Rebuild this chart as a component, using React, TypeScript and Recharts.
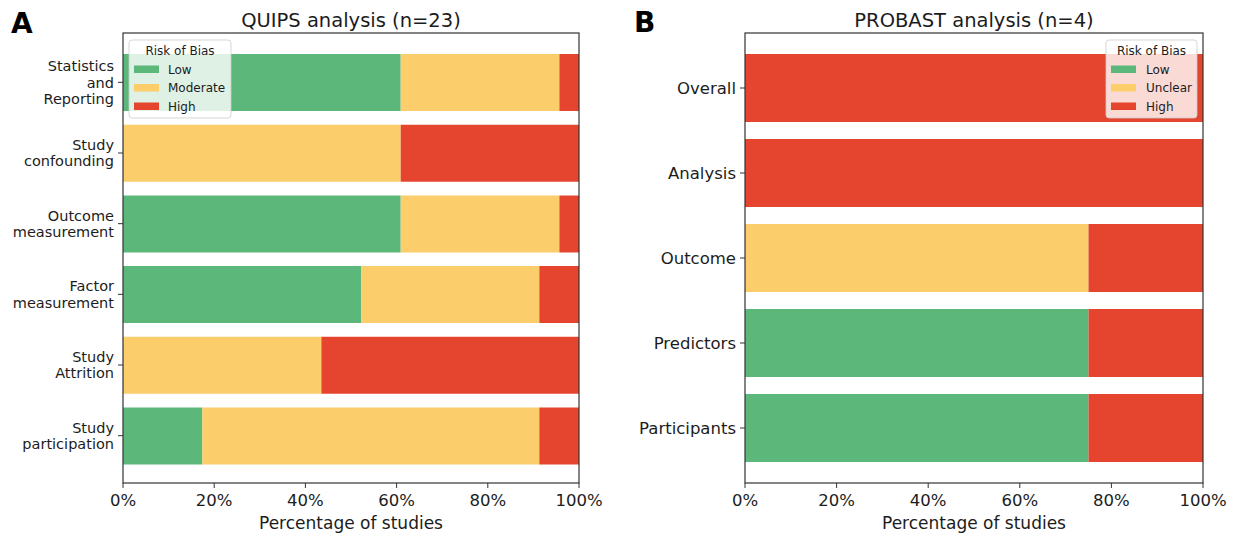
import { Bar, BarChart, XAxis, YAxis } from "recharts";

const FONT = "'DejaVu Sans', sans-serif";
const GREEN = "#5cb77b";
const YELLOW = "#fccd6b";
const RED = "#e5452f";
const INK = "#1c1c1c";

// Panel A: QUIPS (n=23), % of studies
const quipsCategories = [
  "Statistics\nand\nReporting",
  "Study\nconfounding",
  "Outcome\nmeasurement",
  "Factor\nmeasurement",
  "Study\nAttrition",
  "Study\nparticipation",
];
const quipsLow = [60.9, 0, 60.9, 52.2, 0, 17.4];
const quipsModerate = [34.8, 60.9, 34.8, 39.1, 43.5, 73.9];
const quipsHigh = [4.3, 39.1, 4.3, 8.7, 56.5, 8.7];

// Panel B: PROBAST (n=4)
const probastCategories = ["Overall", "Analysis", "Outcome", "Predictors", "Participants"];
const probastLow = [0, 0, 0, 75, 75];
const probastUnclear = [0, 0, 75, 0, 0];
const probastHigh = [100, 100, 25, 25, 25];

const percentTicks = [0, 20, 40, 60, 80, 100];

const quipsData = quipsCategories.map((name, i) => ({
  name,
  low: quipsLow[i],
  mid: quipsModerate[i],
  high: quipsHigh[i],
}));

const probastData = probastCategories.map((name, i) => ({
  name,
  low: probastLow[i],
  mid: probastUnclear[i],
  high: probastHigh[i],
}));

function MultiLineTick(props: any) {
  const { x, y, payload, fontSize, lineHeight } = props;
  const lines = String(payload.value).split("\n");
  const n = lines.length;
  return (
    <text x={x} y={y} textAnchor="end" fontSize={fontSize} fill={INK} fontFamily={FONT}>
      {lines.map((ln, i) => (
        <tspan key={i} x={x} y={y + (i - (n - 1) / 2) * lineHeight + fontSize * 0.36}>
          {ln}
        </tspan>
      ))}
    </text>
  );
}

interface PanelProps {
  data: { name: string; low: number; mid: number; high: number }[];
  left: number;
  width: number;
  yAxisWidth: number;
  rightMargin: number;
  padTop: number;
  padBottom: number;
  tickFont: number;
  tickLine: number;
}

function Panel({ data, left, width, yAxisWidth, rightMargin, padTop, padBottom, tickFont, tickLine }: PanelProps) {
  return (
    <div style={{ position: "absolute", left, top: 0 }}>
      <BarChart
        width={width}
        height={535}
        data={data}
        layout="vertical"
        margin={{ top: 33, right: rightMargin, bottom: 0, left: 0 }}
        barCategoryGap="10%"
      >
        <XAxis
          type="number"
          domain={[0, 100]}
          ticks={percentTicks}
          tickFormatter={(v) => `${v}%`}
          height={52}
          axisLine={false}
          tickSize={5}
          tickMargin={6}
          tickLine={{ stroke: "#333" }}
          tick={{ fontSize: 16.5, fill: INK, fontFamily: FONT }}
          interval={0}
        />
        <YAxis
          type="category"
          dataKey="name"
          width={yAxisWidth}
          axisLine={false}
          tickSize={5}
          tickMargin={4}
          tickLine={{ stroke: "#333" }}
          padding={{ top: padTop, bottom: padBottom }}
          interval={0}
          tick={(p: any) => <MultiLineTick {...p} fontSize={tickFont} lineHeight={tickLine} />}
        />
        <Bar dataKey="low" stackId="s" fill={GREEN} isAnimationActive={false} />
        <Bar dataKey="mid" stackId="s" fill={YELLOW} isAnimationActive={false} />
        <Bar dataKey="high" stackId="s" fill={RED} isAnimationActive={false} />
      </BarChart>
    </div>
  );
}

function LegendBox({ x, y, w, labels, textX }: { x: number; y: number; w: number; labels: string[]; textX: number }) {
  const colors = [GREEN, YELLOW, RED];
  return (
    <g fontFamily={FONT}>
      <rect x={x} y={y} width={w} height={78} rx={3} fill="#fff" fillOpacity={0.8} stroke="#ccc" strokeOpacity={0.8} />
      <text x={x + w / 2} y={y + 14.5} fontSize={12} textAnchor="middle" fill={INK}>
        Risk of Bias
      </text>
      {labels.map((lb, i) => (
        <g key={lb}>
          <rect x={x + 5} y={y + 25.5 + i * 18.5} width={25} height={7.5} fill={colors[i]} />
          <text x={x + textX} y={y + 33.5 + i * 18.5} fontSize={12} fill={INK}>
            {lb}
          </text>
        </g>
      ))}
    </g>
  );
}

export default function App() {
  return (
    <div style={{ position: "absolute", left: 0, top: 0, width: 1235, height: 535, background: "#fff", fontFamily: FONT }}>
      <Panel
        data={quipsData}
        left={0}
        width={620}
        yAxisWidth={123}
        rightMargin={41}
        padTop={14}
        padBottom={12}
        tickFont={14.5}
        tickLine={16.5}
      />
      <Panel
        data={probastData}
        left={620}
        width={615}
        yAxisWidth={125}
        rightMargin={32}
        padTop={12.5}
        padBottom={12.5}
        tickFont={16.5}
        tickLine={18}
      />
      <svg
        width={1235}
        height={535}
        style={{ position: "absolute", left: 0, top: 0, pointerEvents: "none" }}
        fontFamily={FONT}
      >
        <rect x={123} y={33} width={456} height={450} fill="none" stroke="#333" strokeWidth={1.2} />
        <rect x={745} y={33} width={458} height={450} fill="none" stroke="#333" strokeWidth={1.2} />

        <text x={11} y={33} fontSize={28} fontWeight="bold" fill="#000">A</text>
        <text x={634} y={32} fontSize={28} fontWeight="bold" fill="#000">B</text>

        <text x={351} y={27} fontSize={19.5} textAnchor="middle" fill={INK}>QUIPS analysis (n=23)</text>
        <text x={974} y={27} fontSize={19.5} textAnchor="middle" fill={INK}>PROBAST analysis (n=4)</text>

        <text x={351} y={529} fontSize={17} textAnchor="middle" fill={INK}>Percentage of studies</text>
        <text x={974} y={529} fontSize={17} textAnchor="middle" fill={INK}>Percentage of studies</text>

        <LegendBox x={129} y={40} w={102} labels={["Low", "Moderate", "High"]} textX={39} />
        <LegendBox x={1106} y={40} w={91} labels={["Low", "Unclear", "High"]} textX={40} />
      </svg>
    </div>
  );
}
